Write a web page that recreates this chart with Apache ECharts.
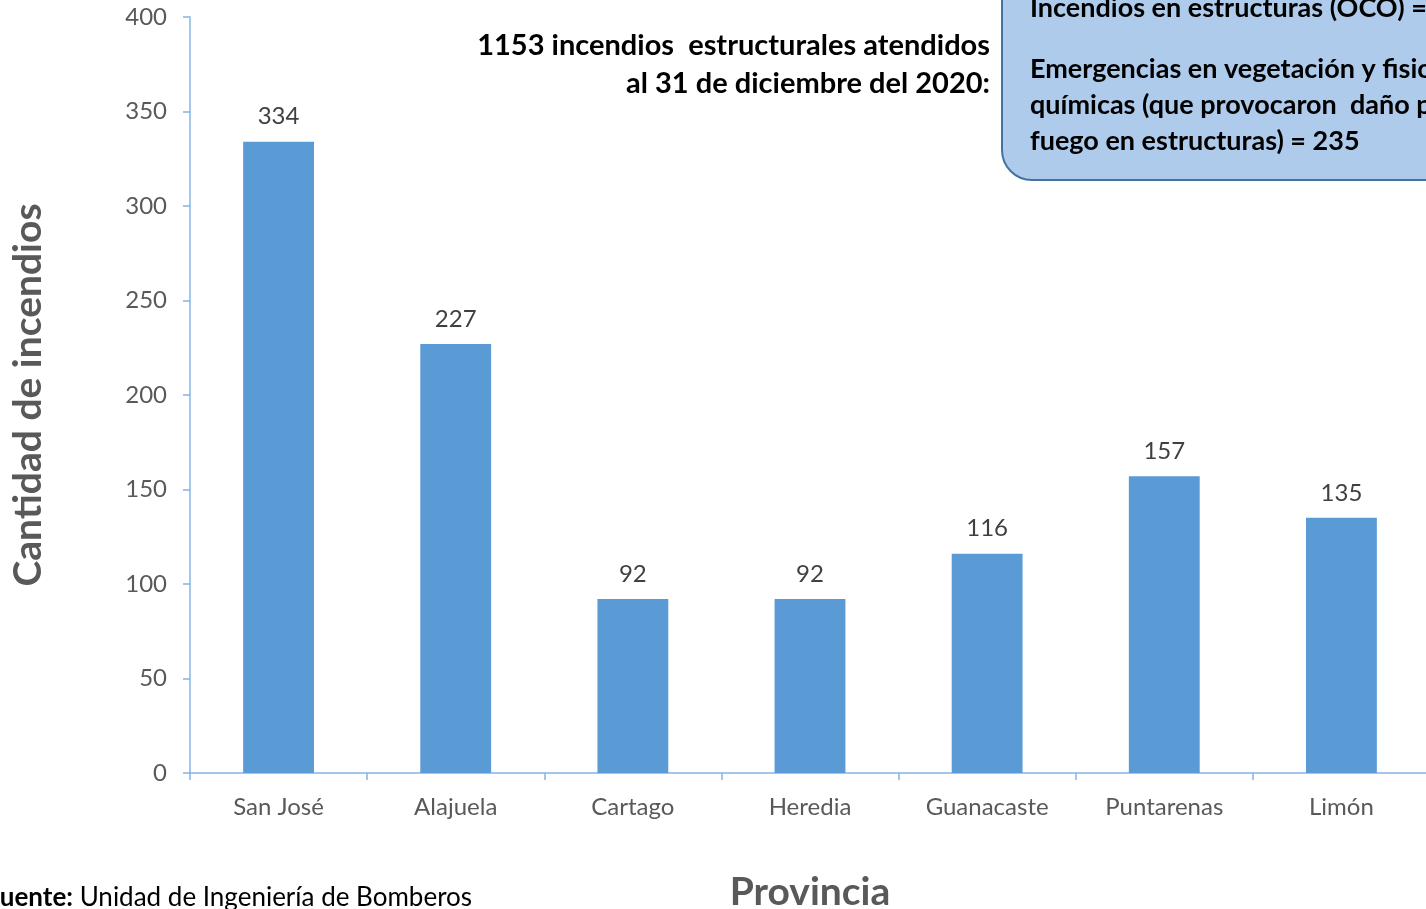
<!DOCTYPE html>
<html>
<head>
<meta charset="utf-8">
<script src="https://cdn.jsdelivr.net/npm/echarts@6/dist/echarts.min.js"></script>
<style>
html,body{margin:0;padding:0;background:#fff;overflow:hidden;}
#c{width:1426px;height:909px;}
</style>
</head>
<body>
<div id="c"></div>
<script>
var categories = ['San José', 'Alajuela', 'Cartago', 'Heredia', 'Guanacaste', 'Puntarenas', 'Limón'];
var incendios = [334, 227, 92, 92, 116, 157, 135];
var yTicks = [0, 50, 100, 150, 200, 250, 300, 350, 400];
var titleLines = ['1153 incendios  estructurales atendidos', 'al 31 de diciembre del 2020:'];
var boxLines = ['Incendios en estructuras (OCO) = 918', '', 'Emergencias en vegetación y fisico-', 'químicas (que provocaron  daño por', 'fuego en estructuras) = 235'];

var FONT = 'Lato, "Open Sans", sans-serif';
var chart = echarts.init(document.getElementById('c'), null, {renderer: 'canvas'});

var graphics = [
  {type: 'rect', shape: {x: 1002, y: -60, width: 600, height: 240, r: 30},
   style: {fill: '#aecbeb', stroke: '#44729f', lineWidth: 2}, z: 10},
  {type: 'text', x: -14, y: 898, z: 10,
   style: {text: '{b|Fuente:} Unidad de Ingeniería de Bomberos', font: '26px ' + FONT, fill: '#000', textVerticalAlign: 'middle',
     rich: {b: {fontWeight: 'bold', fontSize: 26, fontFamily: FONT, fill: '#000'}}}}
];
titleLines.forEach(function (t, i) {
  graphics.push({type: 'text', z: 10, x: 990, y: 46 + i * 38,
    style: {text: t, font: 'bold 29px ' + FONT, fill: '#000', textAlign: 'right', textVerticalAlign: 'middle'}});
});
boxLines.forEach(function (t, i) {
  if (!t) return;
  var yy = i === 0 ? 8 : 69 + (i - 2) * 36;
  graphics.push({type: 'text', z: 11, x: 1030, y: yy,
    style: {text: t, font: 'bold 27px ' + FONT, fill: '#000', textAlign: 'left', textVerticalAlign: 'middle'}});
});

chart.setOption({
  animation: false,
  backgroundColor: '#ffffff',
  grid: {left: 190, top: 17, width: 1240, height: 756, containLabel: false, outerBoundsMode: 'none'},
  xAxis: {
    type: 'category', data: categories,
    name: 'Provincia', nameLocation: 'middle', nameGap: 100,
    nameTextStyle: {fontSize: 39, fontWeight: 'bold', color: '#595959', fontFamily: FONT},
    axisLine: {lineStyle: {color: '#86b4e3', width: 1.5}},
    axisTick: {show: true, length: 7, lineStyle: {color: '#86b4e3', width: 1.5}, alignWithLabel: false},
    axisLabel: {fontSize: 24, color: '#595959', margin: 22, fontFamily: FONT}
  },
  yAxis: {
    type: 'value', min: yTicks[0], max: yTicks[yTicks.length - 1], interval: 50,
    name: 'Cantidad de incendios', nameLocation: 'middle', nameGap: 142, nameRotate: 90,
    nameTextStyle: {fontSize: 39, fontWeight: 'bold', color: '#595959', fontFamily: FONT},
    axisLine: {show: true, lineStyle: {color: '#86b4e3', width: 1.5}},
    axisTick: {show: true, length: 7, lineStyle: {color: '#86b4e3', width: 1.5}},
    splitLine: {show: false},
    axisLabel: {fontSize: 24, color: '#595959', margin: 23, fontFamily: FONT}
  },
  series: [{
    type: 'bar', data: incendios, barWidth: '40%',
    itemStyle: {color: '#5b9bd5'},
    label: {show: true, position: 'top', distance: 13, fontSize: 24, color: '#404040', fontFamily: FONT}
  }],
  graphic: graphics
});
</script>
</body>
</html>
